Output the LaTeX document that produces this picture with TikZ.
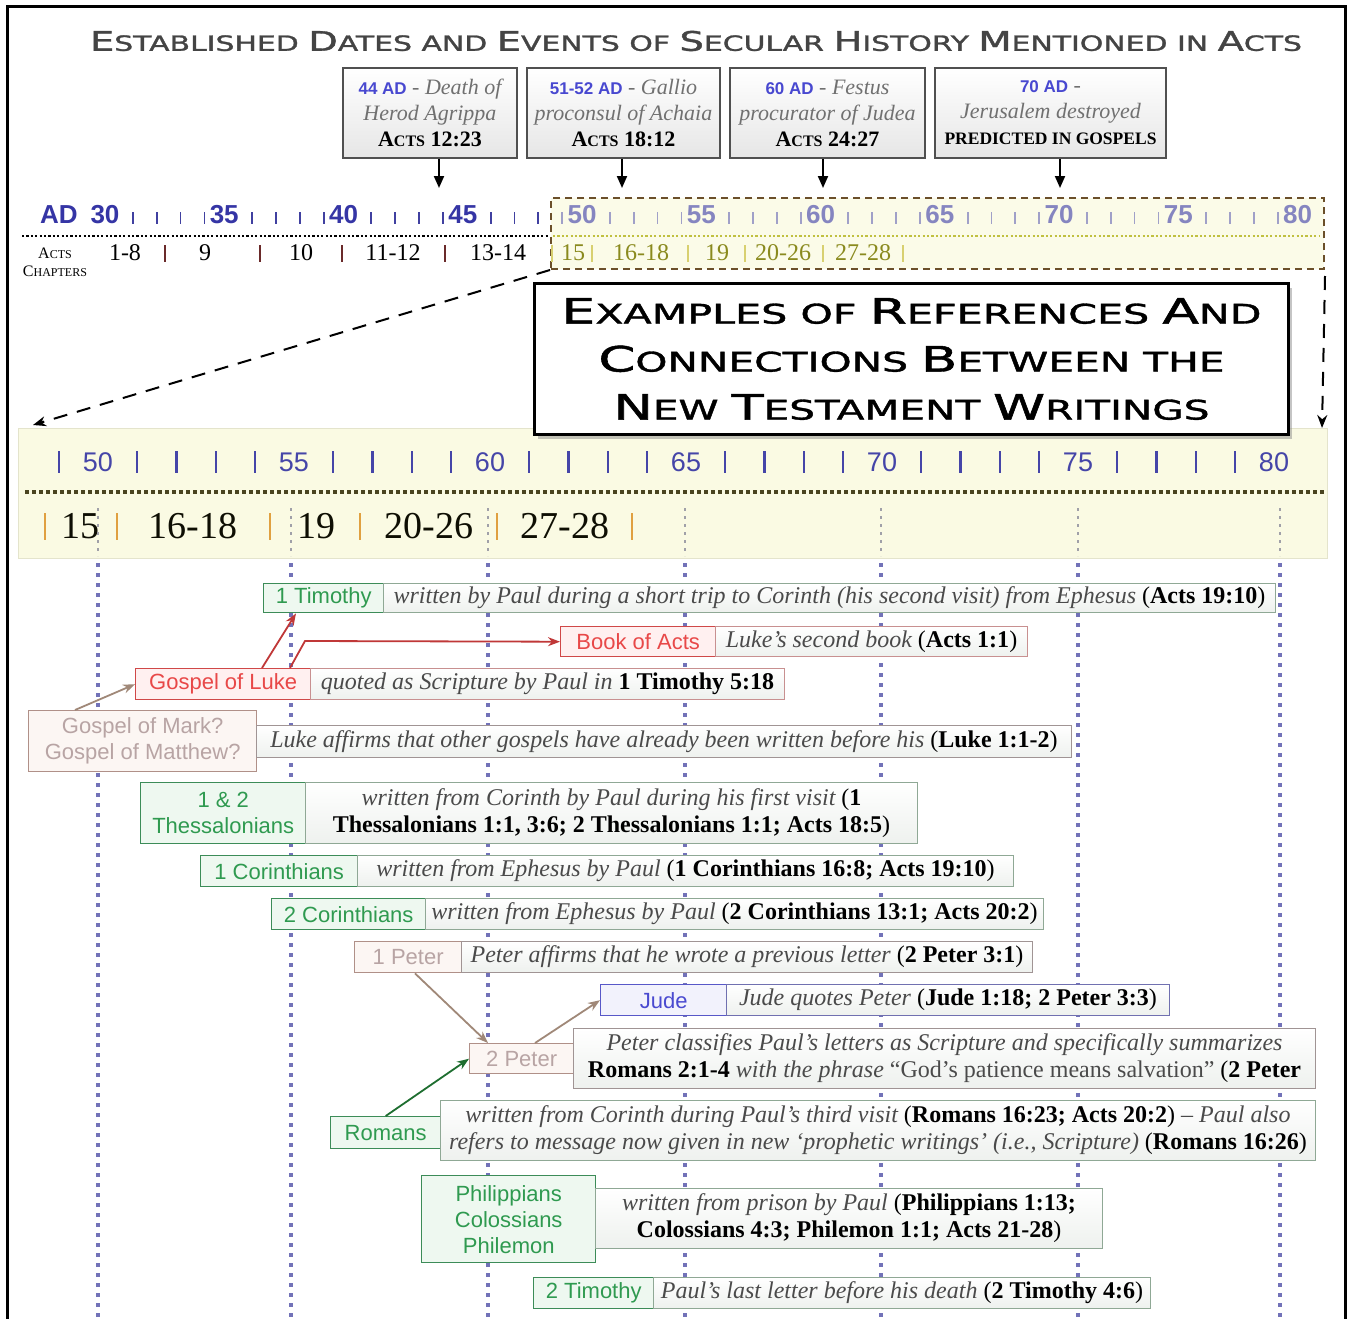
\documentclass[tikz,border=0pt]{standalone}
\usepackage{fontspec}
\usepackage{graphicx}
\usetikzlibrary{arrows.meta,shadows}
\setmainfont{Liberation Serif}
\newfontfamily\sansf{Liberation Sans}
\newfontfamily\capf[FakeBold=1.2]{DejaVu Sans}
\definecolor{titlegrey}{HTML}{444444}
\definecolor{evblue}{HTML}{4848D0}
\definecolor{evgrey}{HTML}{707070}
\definecolor{evborder}{HTML}{505050}
\definecolor{evfill}{HTML}{E6E6E6}
\definecolor{adblue}{HTML}{3535A5}
\definecolor{adlight}{HTML}{8585C0}
\definecolor{tickdark}{HTML}{4040A0}
\definecolor{ticklight}{HTML}{A0A0C8}
\definecolor{maroon}{HTML}{6A2A2A}
\definecolor{olive}{HTML}{8A8A1E}
\definecolor{paleyel}{HTML}{D8D070}
\definecolor{dashbrown}{HTML}{6B4F2A}
\definecolor{upfill}{HTML}{FBFBE8}
\definecolor{updot}{HTML}{C0C040}
\definecolor{banddot}{HTML}{4A4420}
\definecolor{bandfill}{HTML}{FAFAE3}
\definecolor{bandedge}{HTML}{E4E4CC}
\definecolor{lowblue}{HTML}{4545A8}
\definecolor{chorange}{HTML}{E0A040}
\definecolor{vpurple}{HTML}{7272B8}
\definecolor{vgrey}{HTML}{A0A0A8}
\definecolor{gB}{HTML}{3C8C58}
\definecolor{gT}{HTML}{2F9A50}
\definecolor{gF}{HTML}{EEF8F0}
\definecolor{gD}{HTML}{8FA895}
\definecolor{rB}{HTML}{D04848}
\definecolor{rT}{HTML}{E84848}
\definecolor{rF}{HTML}{FFF0F0}
\definecolor{rD}{HTML}{C89090}
\definecolor{pB}{HTML}{B09088}
\definecolor{pT}{HTML}{B8A4A4}
\definecolor{pF}{HTML}{FCF6F3}
\definecolor{pD}{HTML}{A09494}
\definecolor{bB}{HTML}{5858C8}
\definecolor{bT}{HTML}{4A4AD0}
\definecolor{bF}{HTML}{F2F2FC}
\definecolor{bD}{HTML}{7070B0}
\definecolor{dtext}{HTML}{4A4A4A}
\definecolor{descfill}{HTML}{EEF1EE}
\definecolor{arrpk}{HTML}{A08878}
\definecolor{arrrd}{HTML}{C03838}
\definecolor{arrgr}{HTML}{1E6E30}
\newcommand\fs[2]{\fontsize{#1}{#2}\selectfont}
\newcommand\tc[2]{{\fontsize{#1}{#1}\selectfont #2}}
\newcommand\wfit[2]{\resizebox{#1pt}{\height}{#2}}
\newcommand\up{\upshape\color{black}}
\newcommand\bb[1]{{\upshape\bfseries\color{black}#1}}
\newcommand\rf[1]{{\upshape\color{black}(\textbf{#1})}}
\newcommand\evA[1]{{\sansf\bfseries\fontsize{17}{17}\selectfont\color{evblue}#1}}
\newcommand\evI[1]{{\itshape\fontsize{22}{22}\selectfont\color{evgrey}#1}}
\begin{document}
\begin{tikzpicture}[x=1pt,y=-1pt,
  evbox/.style={draw=evborder, line width=1.6pt, top color=white, bottom color=evfill, align=center, inner sep=1pt, font=\fs{22}{26}},
  evarr/.style={-{Triangle[length=12pt,width=10pt]}, line width=2pt, black},
  upnum/.style={font=\sansf\bfseries\fs{26}{26}, text=adblue, inner sep=0pt},
  upnumL/.style={upnum, text=adlight},
  uptick/.style={line width=1.8pt, draw=tickdark},
  uptickL/.style={line width=1.8pt, draw=ticklight},
  upchap/.style={font=\fs{24}{24}, inner sep=0pt, text=black},
  upchapL/.style={upchap, text=olive},
  upsep/.style={line width=1.6pt, draw=maroon},
  upsepL/.style={line width=1.6pt, draw=paleyel},
  lownum/.style={font=\sansf\fs{27}{27}, text=lowblue, inner sep=0pt},
  lowbar/.style={line width=2.2pt, draw=lowblue},
  lowchap/.style={font=\fs{38}{38}, inner sep=0pt, text=black!90!olive},
  lowsep/.style={line width=1.8pt, draw=chorange},
  vdot/.style={draw=vpurple, line width=3.5pt, dash pattern=on 3.5pt off 6.5pt},
  vdotg/.style={draw=vgrey, line width=2.5pt, dash pattern=on 3pt off 5pt},
  dasharr/.style={-{Stealth[length=13pt,width=10pt]}, line width=2pt, black, dash pattern=on 14pt off 10pt},
  lbl/.style={draw, line width=1.4pt, inner sep=1pt, anchor=north west, align=center, font=\sansf\fs{22}{26}},
  lblG/.style={lbl, draw=gB, fill=gF, text=gT},
  lblR/.style={lbl, draw=rB, fill=rF, text=rT},
  lblP/.style={lbl, draw=pB, fill=pF, text=pT},
  lblB/.style={lbl, draw=bB, fill=bF, text=bT},
  desc/.style={draw, line width=1pt, inner sep=1pt, anchor=north west, align=center, top color=white, bottom color=descfill, text=dtext, font=\itshape\fs{24}{27}},
  descG/.style={desc, draw=gD},
  descR/.style={desc, draw=rD},
  descP/.style={desc, draw=pD},
  descB/.style={desc, draw=bD},
  rarr/.style={-{Stealth[length=12pt,width=9pt]}, line width=1.8pt},
]
\useasboundingbox (0,0) rectangle (1349,1319);
\fill[white] (0,0) rectangle (1349,1319);
% frame
\draw[line width=3pt, black] (7,1319) -- (7,7) -- (1345,7) -- (1345,1319);
% title
\node[font=\capf\fs{21}{21}, text=titlegrey, inner sep=0pt] (title) at (696,41) {\wfit{1212}{\tc{27}{E}STABLISHED \tc{27}{D}ATES AND \tc{27}{E}VENTS OF \tc{27}{S}ECULAR \tc{27}{H}ISTORY \tc{27}{M}ENTIONED IN \tc{27}{A}CTS}};
% event boxes
\node[evbox, minimum width=174, minimum height=90] (ev44) at (430,113) {\evA{44 AD} \evI{- Death of}\\\evI{Herod Agrippa}\\\textbf{A\tc{16}{CTS} 12:23}};
\node[evbox, minimum width=193, minimum height=90] (ev51) at (623.5,113) {\evA{51-52 AD} \evI{- Gallio}\\\evI{proconsul of Achaia}\\\textbf{A\tc{16}{CTS} 18:12}};
\node[evbox, minimum width=195, minimum height=90] (ev60) at (827.5,113) {\evA{60 AD} \evI{- Festus}\\\evI{procurator of Judea}\\\textbf{A\tc{16}{CTS} 24:27}};
\node[evbox, minimum width=231, minimum height=90] (ev70) at (1050.5,113) {\evA{70 AD} \evI{-}\\\evI{Jerusalem destroyed}\\\textbf{\fs{17.5}{20}PREDICTED IN GOSPELS}};
\coordinate (t44) at (439,188);
\coordinate (t51) at (622,188);
\coordinate (t60) at (823,188);
\coordinate (t70) at (1060,188);
\draw[evarr] (ev44.south -| t44) -- (t44);
\draw[evarr] (ev51.south -| t51) -- (t51);
\draw[evarr] (ev60.south -| t60) -- (t60);
\draw[evarr] (ev70.south -| t70) -- (t70);
% upper timeline
\node[draw=dashbrown, fill=upfill, line width=2pt, dash pattern=on 7pt off 5pt, minimum width=773, minimum height=71, anchor=north west, inner sep=0pt] (upbox) at (550,197) {};
\draw[black, line width=2.2pt, dash pattern=on 2.2pt off 2.2pt] (22,236) -- (549,236);
\draw[updot, line width=2.2pt, dash pattern=on 2.2pt off 2.2pt] (553,236) -- (1320,236);
\node[upnum] (adlbl) at (59,215) {AD};
\foreach \yr in {30,35,40,45}
  \node[upnum] (u\yr) at ({105+(\yr-30)*23.85},215) {\yr};
\foreach \yr in {50,55,60,65,70,75,80}
  \node[upnumL] (u\yr) at ({105+(\yr-30)*23.85},215) {\yr};
\foreach \yr in {31,32,33,34,36,37,38,39,41,42,43,44,46,47,48}
  \draw[uptick] ({105+(\yr-30)*23.85+4},212) -- ++(0,12);
\foreach \yr in {49,51,52,53,54,56,57,58,59,61,62,63,64,66,67,68,69,71,72,73,74,76,77,78,79}
  \draw[uptickL] ({105+(\yr-30)*23.85+4},212) -- ++(0,12);
\node[font=\fs{16}{18}, align=center, inner sep=0pt] (actslbl) at (55,262) {A\tc{12}{CTS}\\C\tc{12}{HAPTERS}};
\node[upchap] (c1) at (125,253) {1-8};
\node[upchap] (c9) at (205,253) {9};
\node[upchap] (c10) at (301,253) {10};
\node[upchap] (c11) at (393,253) {11-12};
\node[upchap] (c13) at (498,253) {13-14};
\node[upchapL] (c15) at (573,253) {15};
\node[upchapL] (c16) at (641,253) {16-18};
\node[upchapL] (c19) at (717,253) {19};
\node[upchapL] (c20) at (783,253) {20-26};
\node[upchapL] (c27) at (863,253) {27-28};
\foreach \x in {165,260,342,445}
  \draw[upsep] (\x,245) -- (\x,262);
\foreach \x in {552,592,688,745,823,903}
  \draw[upsepL] (\x,245) -- (\x,262);
% lower band
\node[fill=bandfill, draw=bandedge, line width=1pt, minimum width=1309, minimum height=130, anchor=north west, inner sep=0pt] (band) at (18,428) {};
\draw[banddot, line width=3.5pt, dash pattern=on 3.5pt off 3.5pt] (25,492) -- (1325,492);
\foreach \yr in {50,55,60,65,70,75,80}
  \node[lownum] (l\yr) at ({98+(\yr-50)*39.2},462) {\yr};
\foreach \yr in {49,51,52,53,54,56,57,58,59,61,62,63,64,66,67,68,69,71,72,73,74,76,77,78,79}
  \draw[lowbar] ({98+(\yr-50)*39.2},451) -- ++(0,22);
\node[lowchap] (k15) at (80,526) {15};
\node[lowchap] (k16) at (193,526) {16-18};
\node[lowchap] (k19) at (316,526) {19};
\node[lowchap] (k20) at (429,526) {20-26};
\node[lowchap] (k27) at (565,526) {27-28};
\foreach \x in {45,117,270,360,497,632}
  \draw[lowsep] (\x,513) -- (\x,540);
% vertical dotted lines
\foreach \x in {98,291,488,685,881,1078,1280} {
  \draw[vdotg] (\x,508) -- (\x,556);
  \draw[vdot] (\x,563) -- (\x,1319);
}
% banner
\node[draw=black, line width=3pt, fill=white, minimum width=754, minimum height=151, anchor=north west, align=center, inner sep=0pt,
  drop shadow={shadow xshift=3pt, shadow yshift=-4pt, opacity=0.45},
  font=\capf\fs{27}{48}] (banner) at (533,282)
  {\wfit{700}{\tc{35}{E}XAMPLES OF \tc{35}{R}EFERENCES \tc{35}{A}ND}\\
   \wfit{626}{\tc{35}{C}ONNECTIONS \tc{35}{B}ETWEEN THE}\\
   \wfit{596}{\tc{35}{N}EW \tc{35}{T}ESTAMENT \tc{35}{W}RITINGS}};
% dashed arrows
\coordinate (la) at (33,425);
\coordinate (ra) at (1322,428);
\draw[dasharr] (upbox.south west) -- (la);
\draw[dasharr] ([yshift=-6pt]upbox.south east) -- (ra);
% rows
\node[lblG, minimum width=120, minimum height=29] (tim1) at (263,583) {1 Timothy};
\node[descG, minimum width=892, minimum height=29] (tim1d) at (383,583) {written by Paul during a short trip to Corinth (his second visit) from Ephesus \rf{Acts 19:10}};
\node[lblR, minimum width=155, minimum height=30] (acts) at (560,626) {Book of Acts};
\node[descR, minimum width=312, minimum height=30] (actsd) at (715,626) {Luke’s second book \rf{Acts 1:1}};
\node[lblR, minimum width=175, minimum height=31] (luke) at (135,668) {Gospel of Luke};
\node[descR, minimum width=474, minimum height=31] (luked) at (310,668) {quoted as Scripture by Paul in \bb{1 Timothy 5:18}};
\node[lblP, minimum width=228, minimum height=61] (mark) at (28,710) {Gospel of Mark?\\Gospel of Matthew?};
\node[descP, minimum width=815, minimum height=32] (markd) at (256,725) {Luke affirms that other gospels have already been written before his \rf{Luke 1:1-2}};
\node[lblG, minimum width=165, minimum height=61] (thes) at (140,782) {1 \& 2\\Thessalonians};
\node[descG, minimum width=612, minimum height=61] (thesd) at (305,782) {written from Corinth by Paul during his first visit {\up(}\bb{1}\\\bb{Thessalonians 1:1, 3:6; 2 Thessalonians 1:1; Acts 18:5}{\up)}};
\node[lblG, minimum width=157, minimum height=31] (cor1) at (200,855) {1 Corinthians};
\node[descG, minimum width=656, minimum height=31] (cor1d) at (357,855) {written from Ephesus by Paul \rf{1 Corinthians 16:8; Acts 19:10}};
\node[lblG, minimum width=154, minimum height=31] (cor2) at (271,898) {2 Corinthians};
\node[descG, minimum width=618, minimum height=31] (cor2d) at (425,898) {written from Ephesus by Paul \rf{2 Corinthians 13:1; Acts 20:2}};
\node[lblP, minimum width=107, minimum height=31] (pet1) at (354,941) {1 Peter};
\node[descP, minimum width=571, minimum height=31] (pet1d) at (461,941) {Peter affirms that he wrote a previous letter \rf{2 Peter 3:1}};
\node[lblB, minimum width=126, minimum height=31] (jude) at (600,984) {Jude};
\node[descB, minimum width=443, minimum height=31] (juded) at (726,984) {Jude quotes Peter \rf{Jude 1:18; 2 Peter 3:3}};
\node[lblP, minimum width=104, minimum height=30] (pet2) at (469,1043) {2 Peter};
\node[descP, minimum width=742, minimum height=60] (pet2d) at (573,1028) {Peter classifies Paul’s letters as Scripture and specifically summarizes\\\bb{Romans 2:1-4} with the phrase {\up\color{dtext}“God’s patience means salvation”} {\up(}\bb{2 Peter}};
\node[lblG, minimum width=110, minimum height=32] (rom) at (330,1116) {Romans};
\node[descG, minimum width=875, minimum height=60] (romd) at (440,1100) {written from Corinth during Paul’s third visit \rf{Romans 16:23; Acts 20:2} – Paul also\\refers to message now given in new ‘prophetic writings’ (i.e., Scripture) \rf{Romans 16:26}};
\node[lblG, minimum width=174, minimum height=87] (phil) at (421,1175) {Philippians\\Colossians\\Philemon};
\node[descG, minimum width=507, minimum height=60] (phild) at (595,1188) {written from prison by Paul {\up(}\bb{Philippians 1:13;}\\\bb{Colossians 4:3; Philemon 1:1; Acts 21-28}{\up)}};
\node[lblG, minimum width=120, minimum height=31] (tim2) at (533,1277) {2 Timothy};
\node[descG, minimum width=497, minimum height=31] (tim2d) at (653,1277) {Paul’s last letter before his death \rf{2 Timothy 4:6}};
% row arrows
\coordinate (bend) at (305,641);
\draw[rarr, arrpk] ([xshift=47pt]mark.north west) -- (luke.west);
\draw[rarr, arrrd] ([xshift=127pt]luke.north west) -- ([xshift=33pt]tim1.south west);
\draw[rarr, arrrd] ([xshift=155pt]luke.north west) -- (bend) -- (acts.west);
\draw[rarr, arrpk] ([xshift=61pt]pet1.south west) -- ([xshift=19pt]pet2.north west);
\draw[rarr, arrpk] ([xshift=66pt]pet2.north west) -- (jude.west);
\draw[rarr, arrgr] (rom.north) -- (pet2.west);
\end{tikzpicture}
\end{document}
